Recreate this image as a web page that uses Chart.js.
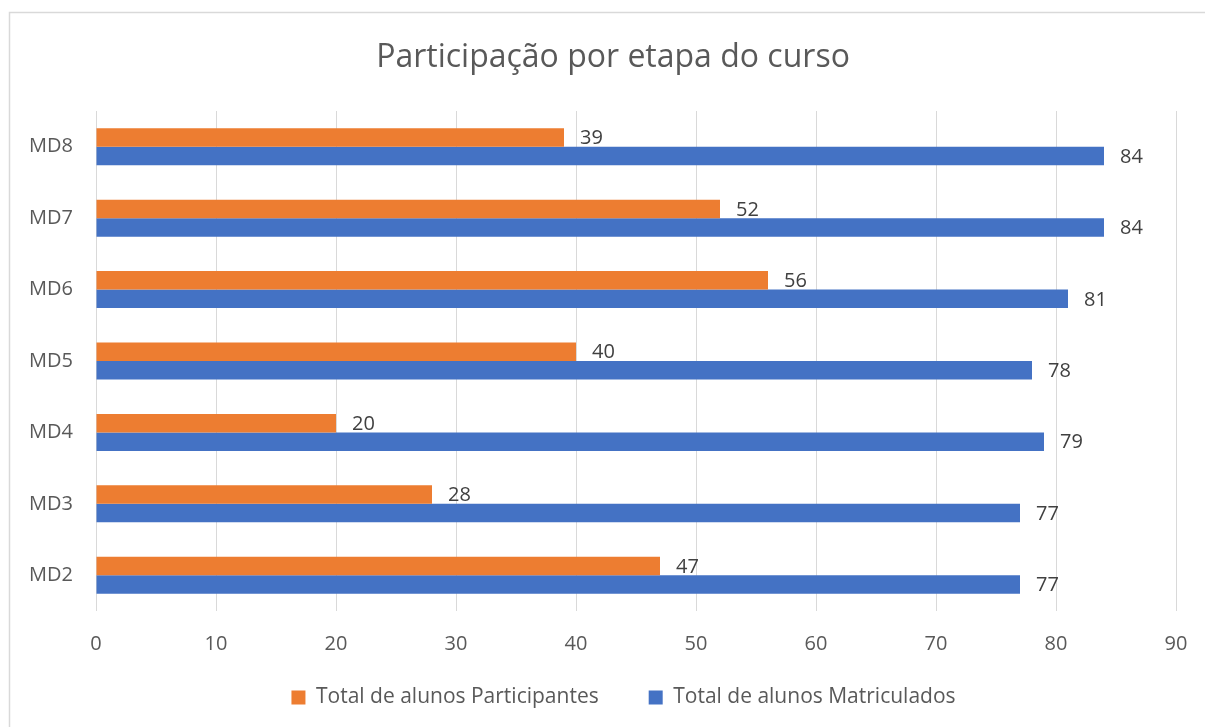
<!DOCTYPE html>
<html>
<head>
<meta charset="utf-8">
<script src="https://cdn.jsdelivr.net/npm/chart.js@4"></script>
<style>html,body{margin:0;padding:0;background:#fff;}canvas{display:block;}</style>
</head>
<body>
<canvas id="chart" width="1205" height="727"></canvas>
<script>
const categories = ['MD8', 'MD7', 'MD6', 'MD5', 'MD4', 'MD3', 'MD2'];
const participantes = [39, 52, 56, 40, 20, 28, 47];
const matriculados = [84, 84, 81, 78, 79, 77, 77];
const seriesNames = ['Total de alunos Participantes', 'Total de alunos Matriculados'];
const titleText = 'Participação por etapa do curso';
const xMin = 0, xMax = 90, xStep = 10;

const FONT = '"Open Sans", "Noto Sans", sans-serif';

const borderPlugin = {
  id: 'frame',
  beforeDraw(chart) {
    const ctx = chart.ctx;
    ctx.save();
    ctx.fillStyle = '#ffffff';
    ctx.fillRect(0, 0, chart.width, chart.height);
    ctx.strokeStyle = '#d9d9d9';
    ctx.lineWidth = 1.5;
    ctx.strokeRect(9.5, 12.5, 1400, 900);
    ctx.restore();
  }
};

// nudge title / legend blocks to the positions used in the original (centred on a wider frame)
const placePlugin = {
  id: 'place',
  afterLayout(chart) {
    const t = chart.titleBlock;
    if (t) { t.left += 25; t.right += 25; }
    const lg = chart.legend;
    if (lg) { lg.left += 35.5; lg.right += 35.5; lg.top -= 22; lg.bottom -= 22; }
  }
};

const labelPlugin = {
  id: 'valueLabels',
  afterDatasetsDraw(chart) {
    const ctx = chart.ctx;
    ctx.save();
    ctx.font = '20px ' + FONT;
    ctx.fillStyle = '#404040';
    ctx.textAlign = 'left';
    ctx.textBaseline = 'middle';
    chart.data.datasets.forEach((ds, di) => {
      const meta = chart.getDatasetMeta(di);
      meta.data.forEach((el, i) => {
        ctx.fillText(String(ds.data[i]), el.x + 16, el.y + 1);
      });
    });
    ctx.restore();
  }
};

new Chart(document.getElementById('chart'), {
  type: 'bar',
  data: {
    labels: categories,
    datasets: [
      { label: seriesNames[0], data: participantes, backgroundColor: '#ED7D31', borderWidth: 0 },
      { label: seriesNames[1], data: matriculados, backgroundColor: '#4472C4', borderWidth: 0 }
    ]
  },
  options: {
    indexAxis: 'y',
    responsive: false,
    animation: false,
    events: [],
    layout: { padding: { left: 0, right: 29, top: 0, bottom: -13 } },
    datasets: { bar: { barPercentage: 1, categoryPercentage: 0.518 } },
    scales: {
      x: {
        min: xMin, max: xMax,
        ticks: { stepSize: xStep, color: '#595959', font: { family: FONT, size: 20 }, padding: 21 },
        grid: { color: '#d9d9d9', lineWidth: 1, drawTicks: false },
        border: { display: false },
        afterFit(scale) { scale.height = 48; scale.paddingRight = 0; scale.paddingLeft = 0; }
      },
      y: {
        ticks: { color: '#595959', font: { family: FONT, size: 20 }, padding: 23 },
        grid: { display: false, drawTicks: false },
        border: { display: false },
        afterFit(scale) { scale.width = 96; }
      }
    },
    plugins: {
      title: {
        display: true,
        text: titleText,
        color: '#595959',
        font: { family: FONT, size: 32, weight: 'normal' },
        padding: { top: 39, bottom: 33.6 }
      },
      legend: {
        position: 'bottom',
        labels: {
          color: '#595959',
          font: { family: FONT, size: 21 },
          boxWidth: 14, boxHeight: 14,
          padding: 50
        }
      },
      tooltip: { enabled: false }
    }
  },
  plugins: [borderPlugin, placePlugin, labelPlugin]
});
</script>
</body>
</html>
